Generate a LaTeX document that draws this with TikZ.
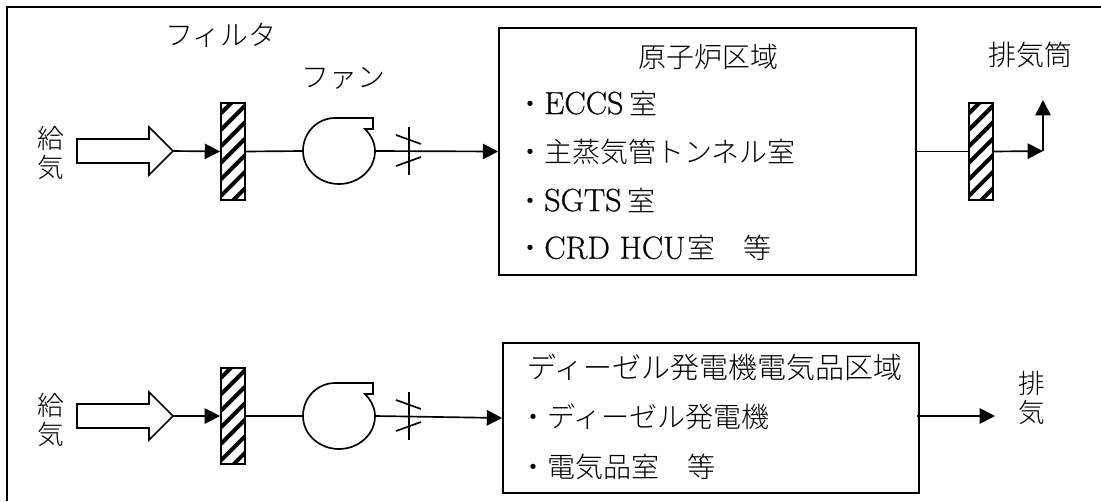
\documentclass[tikz,border=0pt]{standalone}
\usepackage{fontspec}
\usetikzlibrary{arrows.meta}
\newfontfamily\cjk{Noto Sans CJK JP Light}
\newfontfamily\ltnfont[FakeBold=0.6]{Latin Modern Roman}
\newcommand{\ltn}[1]{{\ltnfont\fontsize{24}{26}\selectfont #1}}
\tikzset{
  conn/.style={draw=black,line width=1.25pt},
  flow/.style={conn,-{Triangle[length=11.5pt,width=11.5pt]}},
  txt/.style={font=\cjk\fontsize{21}{26}\selectfont,inner sep=0pt,text=black},
  wide/.style={font=\cjk\fontsize{21.75}{26}\selectfont,inner sep=0pt,text=black},
  vert/.style={txt,align=center,font=\cjk\fontsize{20}{21.6}\selectfont},
  box/.style={draw=black,line width=1.25pt,inner sep=0pt,fill=white},
  filterbox/.style={draw=black,line width=1.4pt,inner sep=0pt,minimum width=18pt,minimum height=72.5pt,
    path picture={
      \foreach \k in {-2,...,6}{
        \draw[line width=3pt] ([yshift=\k*12.4pt+3pt]path picture bounding box.south west)
          -- ++(20pt,20pt);
      }
    }},
  fanbody/.style={inner sep=0pt,minimum width=54pt,minimum height=49.5pt},
  blockarrow/.pic={
    \draw[line width=1.3pt,line join=miter,fill=white] (-96,-12) -- (-24,-12) -- (-24,-24) -- (0,0) -- (-24,24) -- (-24,12) -- (-96,12) -- cycle;
  },
  fanpic/.pic={
    \draw[line width=1.25pt,line join=miter] (-4,-33) -- (34,-33) -- (34,-22) -- (26,-22)
      .. controls (32,-16) and (36,-8) .. (36,0)
      .. controls (36,19) and (19,33) .. (0,33)
      .. controls (-19,33) and (-36,19) .. (-36,0)
      .. controls (-36,-19) and (-21,-33) .. (-4,-33);
  },
  damperpic/.pic={
    \draw[line width=1.25pt] (0,-24) -- (0,24);
    \draw[line width=1.25pt] (-13,-16) -- (12,-7);
    \draw[line width=1.25pt] (-13,15) -- (12,6);
  }
}
\begin{document}
\begin{tikzpicture}[x=0.75pt,y=-0.75pt]
\useasboundingbox (0,0) rectangle (1101,501);
% frame
\coordinate (frameBL) at (7,501);
\coordinate (frameTL) at (7,7);
\coordinate (frameTR) at (1101,7);
\draw[conn,line cap=butt,line join=miter] (frameBL) -- (frameTL) -- (frameTR);

% boxes
\node[box,minimum width=312.75pt,minimum height=185.25pt] (box1) at (707.5,151.5) {};
\node[box,minimum width=312pt,minimum height=112.5pt] (box2) at (711,418) {};

% upper line
\pic at (173,151) {blockarrow};
\coordinate (tip1) at (173,151);
\node[filterbox] (f1) at (233,151.5) {};
\node[fanbody] (fan1) at (339,151) {};
\pic at (339,151) {fanpic};
\draw[flow] (tip1) -- (f1.west);
\draw[conn] (f1.east) -- (fan1.west);
\draw[flow] (fan1.east) -- (box1.west);
\pic at (409,151) {damperpic};
\node[filterbox] (f2) at (981,151.5) {};
\coordinate (bend1) at (1043,151);
\coordinate (stack1) at (1043,100);
\draw[conn] (box1.east) -- (f2.west);
\draw[flow] (f2.east) -- (bend1);
\draw[flow] (bend1) -- (stack1);

% lower line
\pic at (173,416) {blockarrow};
\coordinate (tip2) at (173,416);
\node[filterbox] (f3) at (233,416) {};
\node[fanbody] (fan2) at (339,416) {};
\pic at (339,416) {fanpic};
\draw[flow] (tip2) -- (f3.west);
\draw[conn] (f3.east) -- (fan2.west);
\draw[flow] (fan2.east) -- (box2.west);
\pic at (409,416) {damperpic};
\coordinate (out2) at (995,416);
\draw[flow] ([xshift=-2pt,yshift=1.5pt]box2.east) -- (out2);

% labels
\node[txt] (lfilter) at (221,35) {フィルタ};
\node[txt] (lfan) at (343,78) {ファン};
\node[txt] (lstack) at (1030,55) {排気筒};
\node[vert] (lsup1) at (51,153) {給\\気};
\node[vert] (lsup2) at (51,420) {給\\気};
\node[vert] (lexh) at (1032,398) {排\\気};

% upper box text
\node[txt] (t1) at (708,57) {原子炉区域};
\node[txt,anchor=west] (t2) at (516,103) {・\ltn{ECCS} 室};
\node[txt,anchor=west] (t3) at (516,152) {・主蒸気管トンネル室};
\node[txt,anchor=west] (t4) at (516,200) {・\ltn{SGTS} 室};
\node[txt,anchor=west] (t5) at (516,248) {・\ltn{CRD HCU} \kern-3pt室　等};

% lower box text
\node[wide,anchor=west] (t6) at (527,367) {ディーゼル発電機電気品区域};
\node[txt,anchor=west] (t7) at (519,417) {・ディーゼル発電機};
\node[txt,anchor=west] (t8) at (519,467) {・電気品室　等};
\end{tikzpicture}
\end{document}
